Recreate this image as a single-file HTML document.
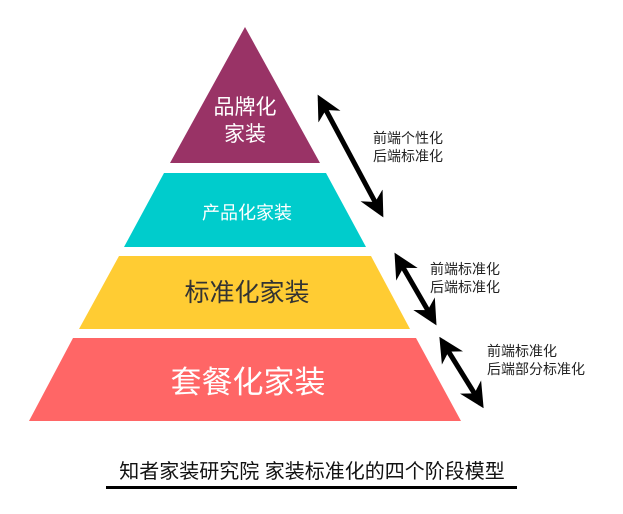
<!DOCTYPE html>
<html><head><meta charset="utf-8"><style>
html,body{margin:0;padding:0;background:#fff;}
svg{display:block;}
text{font-family:"Liberation Sans","Noto Sans CJK SC",sans-serif;}
</style></head><body>
<svg width="623" height="514" viewBox="0 0 623 514" xmlns="http://www.w3.org/2000/svg">
<defs>
<marker id="ah" viewBox="0 0 10 10" refX="8" refY="5" markerWidth="5" markerHeight="5" orient="auto-start-reverse" markerUnits="strokeWidth">
<path d="M0,0 L10,5 L0,10 L3,5 z" fill="#000"/>
</marker>
</defs>
<rect width="623" height="514" fill="#fff"/>
<polygon points="245,27 320,163 170,163" fill="#993366"/>
<polygon points="164,173 326,173 366,247 124,247" fill="#00CCCC"/>
<polygon points="119,256 371,256 410,329 79,329" fill="#FFCC33"/>
<polygon points="73,338 416,338 461,421 29,421" fill="#FF6666"/>

<text x="245" y="114" font-size="21" fill="#fff" text-anchor="middle">品牌化</text>
<text x="245" y="141" font-size="21" fill="#fff" text-anchor="middle">家装</text>
<text x="247" y="219" font-size="18" fill="#fff" text-anchor="middle">产品化家装</text>
<text x="247" y="301" font-size="25" fill="#333" text-anchor="middle">标准化家装</text>
<text x="248" y="393" font-size="31" fill="#fff" text-anchor="middle">套餐化家装</text>

<line x1="320" y1="99" x2="381" y2="213" stroke="#000" stroke-width="5" marker-start="url(#ah)" marker-end="url(#ah)"/>
<line x1="397" y1="257" x2="434" y2="321" stroke="#000" stroke-width="5" marker-start="url(#ah)" marker-end="url(#ah)"/>
<line x1="442" y1="341" x2="481" y2="404" stroke="#000" stroke-width="5" marker-start="url(#ah)" marker-end="url(#ah)"/>

<g font-size="14" fill="#222">
<text x="373" y="143">前端个性化</text>
<text x="373" y="161">后端标准化</text>
<text x="430" y="274">前端标准化</text>
<text x="430" y="292">后端标准化</text>
<text x="487" y="356">前端标准化</text>
<text x="487" y="374">后端部分标准化</text>
</g>

<text x="312" y="478" font-size="20" fill="#111" text-anchor="middle">知者家装研究院 家装标准化的四个阶段模型</text>
<rect x="106" y="486" width="411" height="3" fill="#000"/>
</svg>
</body></html>
